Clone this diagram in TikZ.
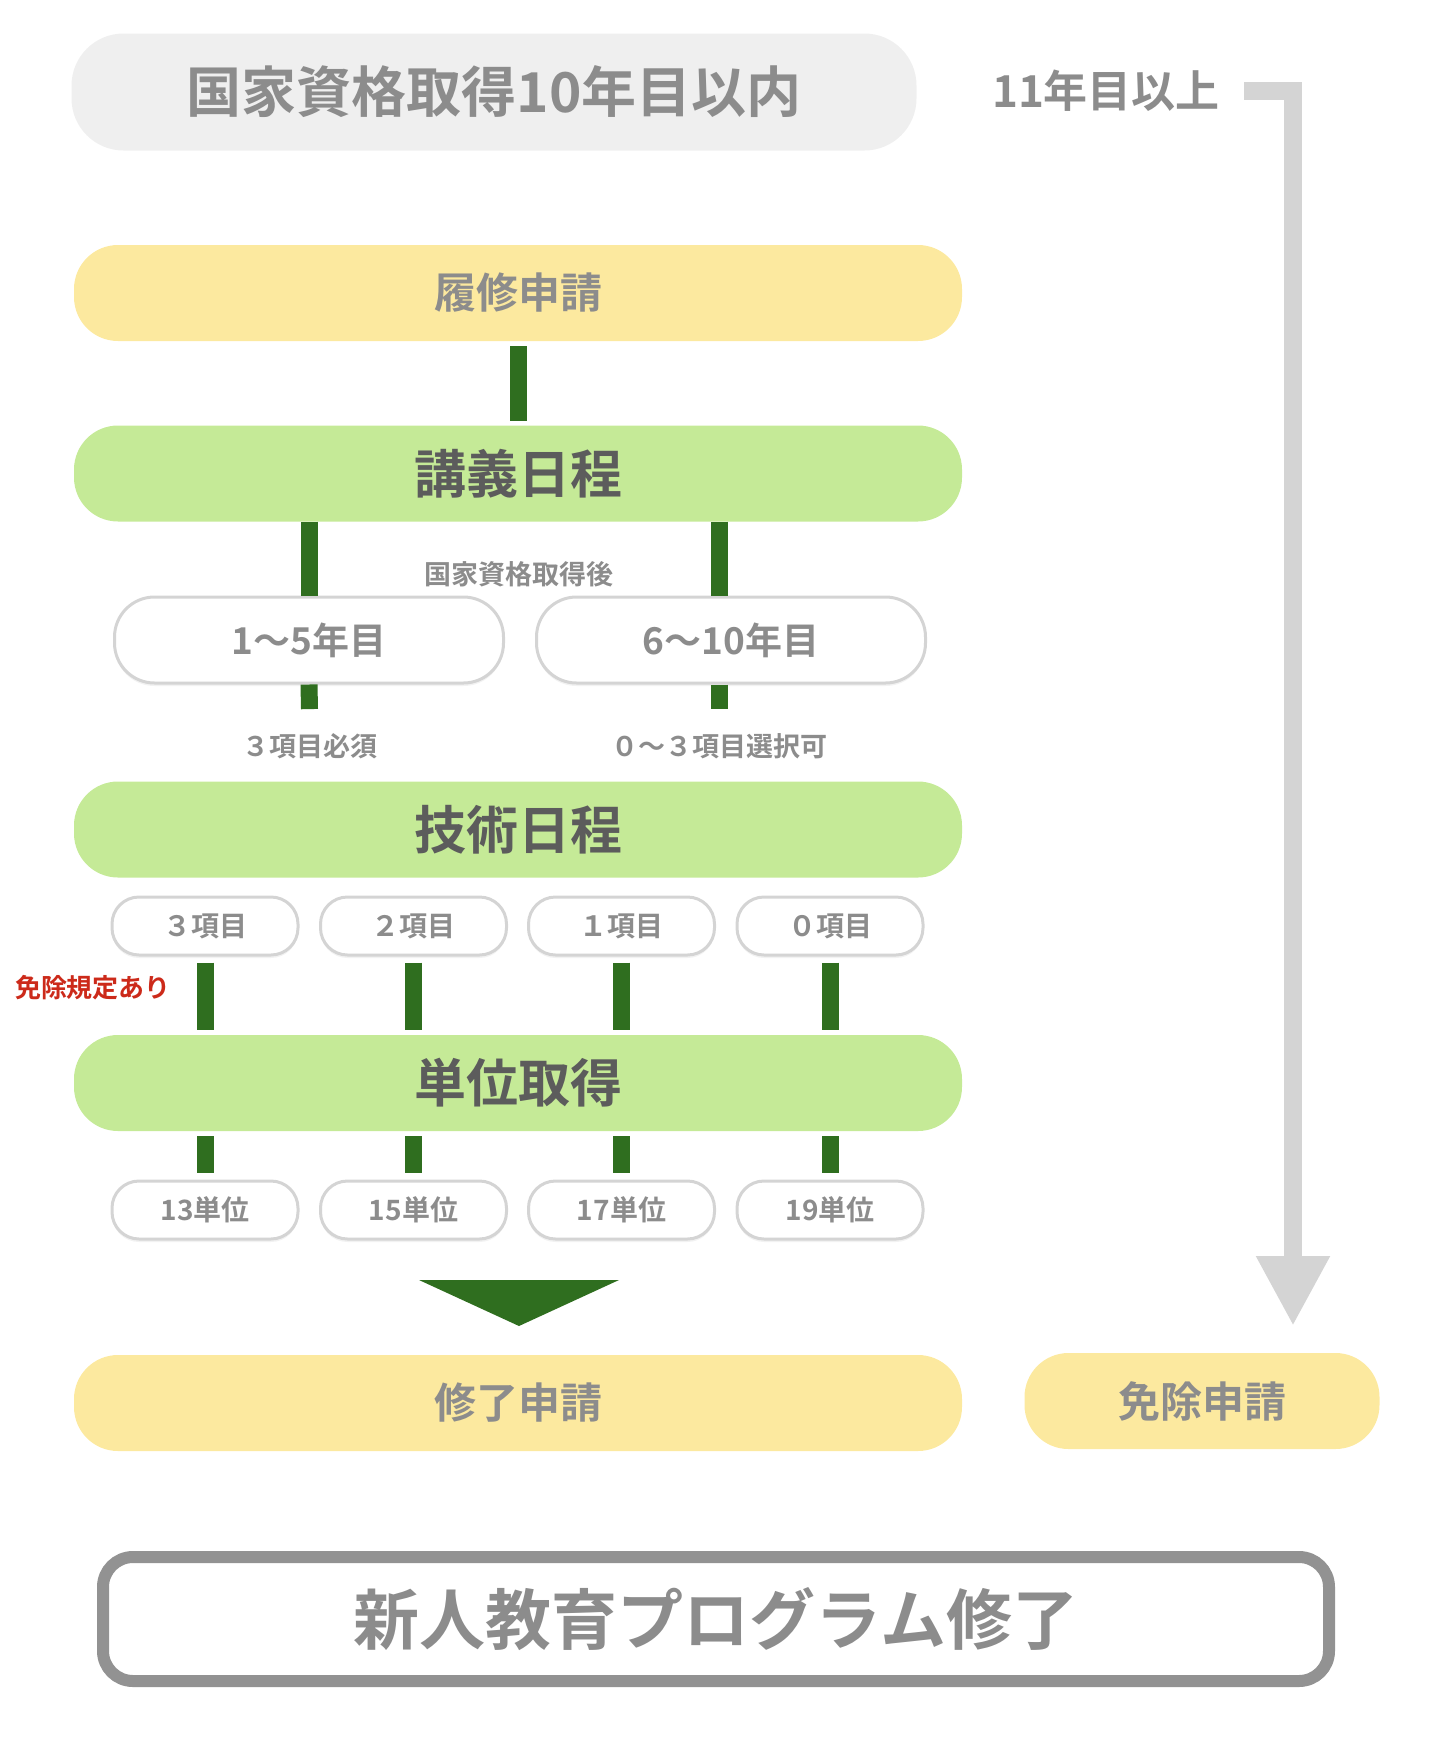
\documentclass[tikz,border=0pt]{standalone}
\usepackage{fontspec}
\setmainfont{Noto Sans CJK JP}[BoldFont={Noto Sans CJK JP Bold}]
\usetikzlibrary{positioning,arrows.meta,shadows}
\definecolor{pale}{HTML}{EFEFEF}
\definecolor{cream}{HTML}{FCE99F}
\definecolor{leaf}{HTML}{C5EA97}
\definecolor{moss}{HTML}{2F6E1F}
\definecolor{ash}{HTML}{8C8C8C}
\definecolor{slate}{HTML}{5C5C5C}
\definecolor{rim}{HTML}{D4D4D4}
\definecolor{frame}{HTML}{929292}
\definecolor{alert}{HTML}{CC2A1A}
\newcommand\fsz[1]{\fontsize{#1}{#1}\selectfont\bfseries}
\begin{document}
\begin{tikzpicture}[x=1pt,y=-1pt,
    pill/.style={rounded corners=44pt, minimum width=888pt, minimum height=96pt, inner sep=0pt},
    stage/.style={pill, fill=leaf, text=slate, font=\fsz{52}},
    paper/.style={pill, fill=cream, text=ash, font=\fsz{42}},
    yearbox/.style={draw=rim, line width=3pt, fill=white, rounded corners=40pt,
      minimum width=389pt, minimum height=86pt, inner sep=0pt, text=ash, font=\fsz{37},
      drop shadow={shadow xshift=0pt, shadow yshift=-3pt, fill=black!10}},
    tagbox/.style={yearbox, minimum width=186pt, minimum height=58pt, rounded corners=27pt, font=\fsz{28}},
    note/.style={inner sep=0pt, text=ash, font=\fsz{27}},
    conn/.style={draw=moss, line width=17pt}]
  \useasboundingbox (0,0) rectangle (1440,1738);
  % ------ en tete -----------------
  \node [pill, fill=pale, minimum width=845pt, minimum height=117pt, rounded corners=52pt,
    text=ash, font=\fsz{55}] (within) at (494,92) {国家資格取得10年目以内};
  \node [text=ash, font=\fsz{44}, inner sep=0pt] (over) at (1106,91) {11年目以上};
  % ------ etapes -----------------
  \node [paper] (rishu) at (518,293) {履修申請};
  \node [stage] (kogi) at (518,473.5) {講義日程};
  \node [yearbox] (y15) at (309,640) {1〜5年目};
  \node [yearbox] (y610) at (731,640) {6〜10年目};
  \node [note] (after) at (519,574) {国家資格取得後};
  \node [note] (req) at (310,746) {３項目必須};
  \node [note] (opt) at (719,746) {０〜３項目選択可};
  \node [stage] (gijutsu) at (518,829.5) {技術日程};
  \foreach \n/\x/\a/\b in {1/205/３項目/13単位, 2/413.5/２項目/15単位,
      3/621.5/１項目/17単位, 4/830/０項目/19単位} {
    \node [tagbox] (k\n) at (\x,926) {\a};
    \node [tagbox] (u\n) at (\x,1210) {\b};
  }
  \node [text=alert, font=\fsz{26}, inner sep=0pt] (exempt) at (93,988) {免除規定あり};
  \node [stage] (tani) at (518,1083) {単位取得};
  \node [paper] (shuryo) at (518,1403) {修了申請};
  \node [paper, minimum width=355pt] (menjo) at (1202,1401) {免除申請};
  \node [draw=frame, line width=12pt, rounded corners=30pt, minimum width=1226pt,
    minimum height=124pt, text=ash, font=\fsz{66}] (done) at (716,1619) {新人教育プログラム修了};
  % ------ liaisons -----------------
  \draw [conn, shorten <=5pt, shorten >=4pt] (rishu) -- (kogi);
  \draw [conn] (y15.north |- kogi.south) -- (y15.north);
  \draw [conn] (opt.north |- kogi.south) -- (opt.north |- y610.north);
  \draw [conn, shorten >=24pt] (y15.south) -- (req.north);
  \draw [conn, shorten >=24pt] (opt.north |- y610.south) -- (opt.north);
  \foreach \n in {1,...,4} {
    \draw [conn, shorten <=6pt, shorten >=5pt] (k\n.south) -- (k\n.south |- tani.north);
    \draw [conn, shorten <=5pt, shorten >=7pt] (u\n.north |- tani.south) -- (u\n.north);
  }
  \fill [moss] (419,1280) -- (619,1280) -- (519,1326) -- cycle;
  \coordinate (tip) at (1293,1326);
  \draw [line width=18pt, rim, line join=miter, shorten <=24pt,
    -{Triangle[width=69pt,length=70pt]}] (over.east) -| (tip);
\end{tikzpicture}
\end{document}
